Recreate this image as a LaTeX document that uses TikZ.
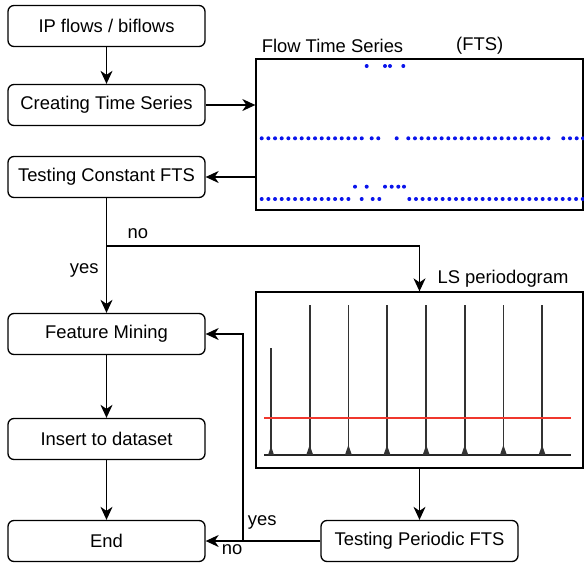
\documentclass[tikz,border=0pt]{standalone}
\usepackage{fontspec}
\setmainfont{Liberation Sans}
\usetikzlibrary{arrows.meta}
\definecolor{dotblue}{RGB}{10,20,235}
\definecolor{limitred}{RGB}{240,55,45}

\begin{document}
\begin{tikzpicture}[x=1pt,y=-1pt,line width=1.3pt,>={Stealth[length=13pt,width=12pt,inset=4pt]},
    every node/.style={font=\fontsize{18.4}{22}\selectfont},
    stepbox/.style={draw,rounded corners=6pt,minimum width=197pt,minimum height=41pt,inner sep=0pt},
    panel/.style={draw,minimum width=327pt,inner sep=0pt},
    dot/.style={fill=dotblue,radius=2pt},
    spike/.style={black!80,line width=1.7pt}]
  \useasboundingbox (0,0) rectangle (584,565);
  % left column
  \node[stepbox] (ipflows) at (106.5,26) {IP flows / biflows};
  \node[stepbox] (creating) at (106.5,105) {Creating Time Series};
  \node[stepbox] (testconst) at (106.5,177) {Testing Constant FTS};
  \node[stepbox] (mining) at (106.5,334) {Feature Mining};
  \node[stepbox] (insert) at (106.5,439) {Insert to dataset};
  \node[stepbox] (theend) at (106.5,541) {End};
  \node[stepbox] (testper) at (419.5,541) {Testing Periodic FTS};
  % the two plots
  \node[panel,minimum height=151pt] (ftsplot) at (419.5,134.5) {};
  \node[panel,minimum height=176pt] (lsplot) at (419.5,380) {};
  \node (ftstitle) at (332.5,46) {Flow Time Series};
  \node (ftsabbr) at (479.7,46) {(FTS)};
  \node (lstitle) at (503,279) {LS periodogram};
  % FTS dots
  \foreach \x in {366.7,385,390,403.3} \fill[dot] (\x,66) circle [];
  \foreach \k in {0,...,15} \fill[dot] (261.7+6.67*\k,138.3) circle [];
  \foreach \x in {371.7,378.3,396.7,563.3,570,576.7,583} \fill[dot] (\x,138.3) circle [];
  \foreach \k in {0,...,21} \fill[dot] (408.3+6.67*\k,138.3) circle [];
  \foreach \x in {355,366.7,385,391.7,398.3,404} \fill[dot] (\x,186.7) circle [];
  \foreach \k in {0,...,13} \fill[dot] (261.7+6.67*\k,199) circle [];
  \foreach \x in {361.7,372.7,379.3} \fill[dot] (\x,199) circle [];
  \foreach \k in {0,...,26} \fill[dot] (409.3+6.67*\k,199) circle [];
  % periodogram
  \draw[black!85,line width=1.2pt] (264,455) -- (571,455);
  \draw[spike,line width=1.4pt] (271,455) -- (271,348);
  \fill[black!80] (268,455) -- (271,446) -- (274,455) -- cycle;
  \foreach \x in {309.7,348.4,387,426.2,464.8,503.4,542.1} {
    \draw[spike] (\x,455) -- (\x,305);
    \fill[black!80] (\x-3.5,455) -- (\x,445) -- (\x+3.5,455) -- cycle;
  }
  \fill[limitred] (264,416.5) rectangle (571,418.5);
  % connectors
  \draw[->] (ipflows) -- (creating);
  \draw[->] (creating.east) -- (creating.east -| ftsplot.west);
  \draw[->] (testconst.east -| ftsplot.west) -- (testconst.east);
  \draw[->] (testconst) -- (mining) node[pos=0.63,left=4pt] {yes};
  \coordinate (split) at (106.5,246);
  \draw[->] (split) -| (lsplot.north) node[pos=0.05,above=3pt] {no};
  \draw[->] (mining) -- (insert);
  \draw[->] (insert) -- (theend);
  \draw[->] (lsplot) -- (testper);
  \draw[->] (testper) -- (theend) node[pos=0.77,below=0pt] {no};
  \coordinate (back) at (243,541);
  \draw[->] (back) |- (mining.east) node[pos=0.045,right=1pt] {yes};
\end{tikzpicture}
\end{document}
